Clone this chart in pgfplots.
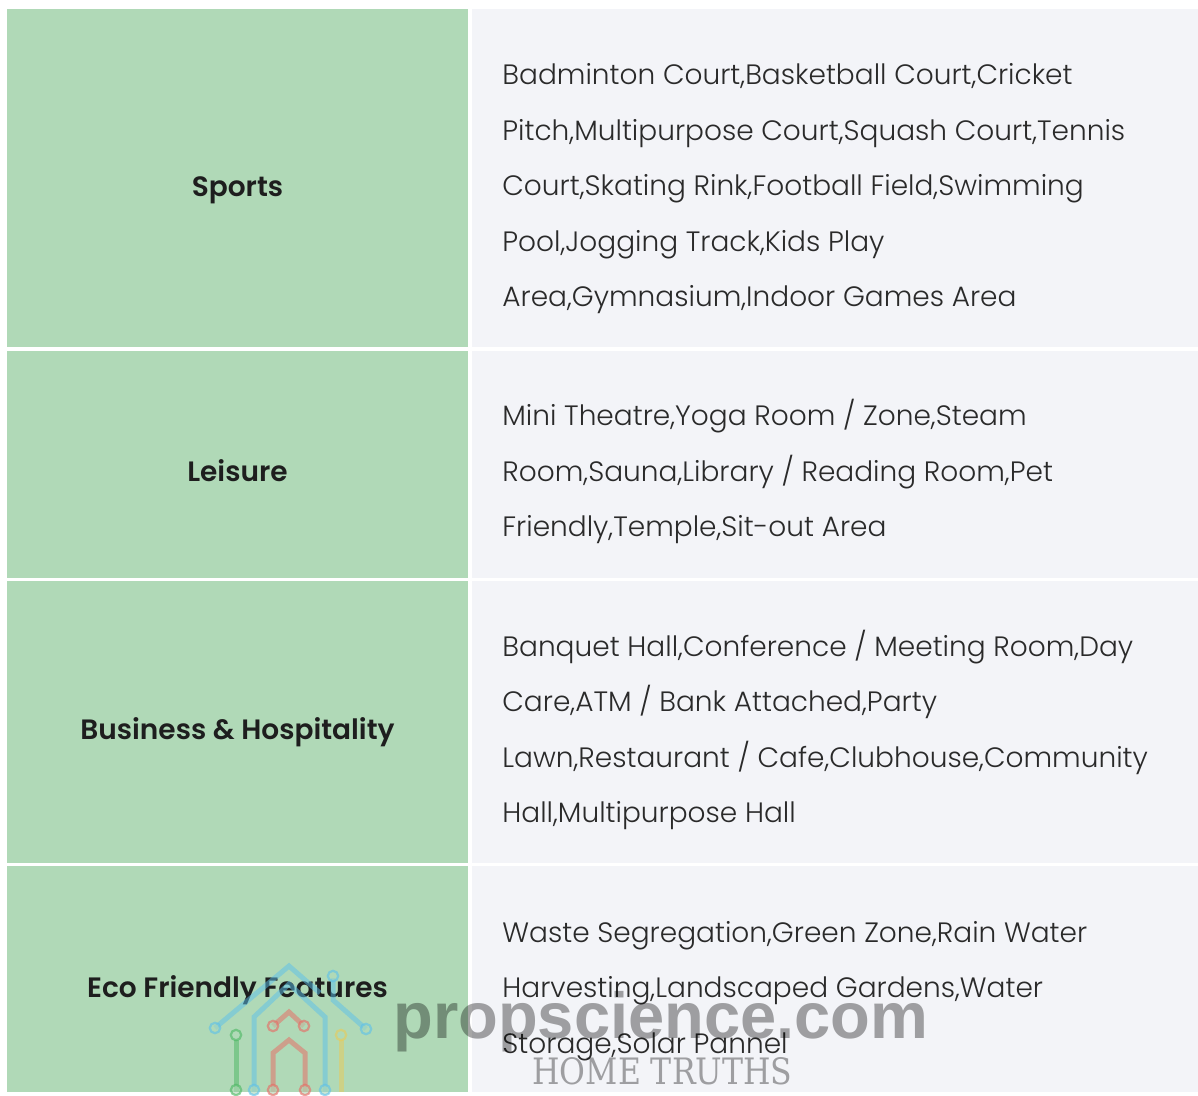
\documentclass[border=0pt]{standalone}
\usepackage{pgfplots}
\pgfplotsset{compat=1.18}
\usepackage{fontspec}
\setmainfont{Poppins}
\newfontfamily\lightfont{Poppins Light}
\newfontfamily\semifont{Poppins SemiBold}
\newfontfamily\wmfont{Liberation Sans}
\newfontfamily\slabfont{DejaVu Serif}
\definecolor{rowgreen}{HTML}{B0D9B7}
\definecolor{rowgrey}{HTML}{F3F4F8}
\definecolor{bodytext}{HTML}{2A2A2A}
\definecolor{labeltext}{HTML}{1E1E1E}
\definecolor{icblue}{HTML}{5BC0EB}
\definecolor{icred}{HTML}{EA6761}
\definecolor{icgreen}{HTML}{4AB761}
\definecolor{icyellow}{HTML}{EACB57}
\begin{document}
\begin{tikzpicture}
\begin{axis}[
  width=599pt, height=546pt, scale only axis,
  xmin=0, xmax=1198, ymin=0, ymax=1092, y dir=reverse,
  hide axis, clip mode=global,
]
% background
\addplot[fill=white, draw=none] coordinates {(0,0) (1198,0) (1198,1092) (0,1092)} -- cycle;
% left column (green)
\addplot[fill=rowgreen, draw=none] coordinates {(7,9) (468,9) (468,347) (7,347)} -- cycle;
\addplot[fill=rowgreen, draw=none] coordinates {(7,351) (468,351) (468,578) (7,578)} -- cycle;
\addplot[fill=rowgreen, draw=none] coordinates {(7,581) (468,581) (468,863) (7,863)} -- cycle;
\addplot[fill=rowgreen, draw=none] coordinates {(7,866) (468,866) (468,1092) (7,1092)} -- cycle;
% right column (grey)
\addplot[fill=rowgrey, draw=none] coordinates {(472,9) (1198,9) (1198,347) (472,347)} -- cycle;
\addplot[fill=rowgrey, draw=none] coordinates {(472,351) (1198,351) (1198,578) (472,578)} -- cycle;
\addplot[fill=rowgrey, draw=none] coordinates {(472,581) (1198,581) (1198,863) (472,863)} -- cycle;
\addplot[fill=rowgrey, draw=none] coordinates {(472,866) (1198,866) (1198,1092) (472,1092)} -- cycle;

% labels
\tikzset{lb/.style={anchor=base, inner sep=0pt, font=\semifont\fontsize{14}{16}\selectfont, text=labeltext}}
\node[lb] at (axis cs:237.5,196.5) {Sports};
\node[lb] at (axis cs:237.5,481.5) {Leisure};
\node[lb] at (axis cs:237.5,739.5) {Business \& Hospitality};
\node[lb] at (axis cs:237.5,997.5) {Eco Friendly Features};

% body text
\tikzset{bt/.style={anchor=base west, inner sep=0pt, font=\lightfont\fontsize{14}{16}\selectfont, text=bodytext}}
\node[bt] at (axis cs:502,84.5) {Badminton Court,Basketball Court,Cricket};
\node[bt] at (axis cs:502,140.5) {Pitch,Multipurpose Court,Squash Court,Tennis};
\node[bt] at (axis cs:502,195.5) {Court,Skating Rink,Football Field,Swimming};
\node[bt] at (axis cs:502,251.5) {Pool,Jogging Track,Kids Play};
\node[bt] at (axis cs:502,306.5) {Area,Gymnasium,Indoor Games Area};

\node[bt] at (axis cs:502,425.5) {Mini Theatre,Yoga Room / Zone,Steam};
\node[bt] at (axis cs:502,481.5) {Room,Sauna,Library / Reading Room,Pet};
\node[bt] at (axis cs:502,536.5) {Friendly,Temple,Sit-out Area};

\node[bt] at (axis cs:502,656.5) {Banquet Hall,Conference / Meeting Room,Day};
\node[bt] at (axis cs:502,711.5) {Care,ATM / Bank Attached,Party};
\node[bt] at (axis cs:502,767.5) {Lawn,Restaurant / Cafe,Clubhouse,Community};
\node[bt] at (axis cs:502,822.5) {Hall,Multipurpose Hall};

\node[bt] at (axis cs:502,942.5) {Waste Segregation,Green Zone,Rain Water};
\node[bt] at (axis cs:502,997.5) {Harvesting,Landscaped Gardens,Water};
\node[bt] at (axis cs:502,1053.5) {Storage,Solar Pannel};

% watermark icon
\addplot[draw=icblue, line width=2.5pt, opacity=0.5] coordinates {(215,1028) (289,966) (320,993)};
\addplot[draw=icblue, line width=2.5pt, opacity=0.5] coordinates {(333,978) (333,1000) (366,1029)};
\addplot[draw=icblue, line width=2.5pt, opacity=0.5] coordinates {(254,1092) (254,1017) (289,984) (325,1017) (325,1092)};
\addplot[draw=icred, line width=2.5pt, opacity=0.5] coordinates {(273,1026) (289,1012) (304,1026)};
\addplot[draw=icred, line width=2.5pt, opacity=0.5] coordinates {(273,1092) (273,1053) (289,1040) (305,1053) (305,1092)};
\addplot[draw=icgreen, line width=2.5pt, opacity=0.5] coordinates {(236,1040) (236,1092)};
\addplot[draw=icyellow, line width=2.5pt, opacity=0.5] coordinates {(341,1040) (341,1092)};
\addplot[only marks, mark=*, mark size=2.6pt, draw=icblue, fill=rowgreen, mark options={line width=1.1pt, opacity=0.6}] coordinates {(215,1028) (366,1029) (333,976) (254,1090) (325,1090)};
\addplot[only marks, mark=*, mark size=2.6pt, draw=icred, fill=rowgreen, mark options={line width=1.1pt, opacity=0.6}] coordinates {(273,1026) (304,1026) (273,1090) (305,1090)};
\addplot[only marks, mark=*, mark size=2.6pt, draw=icgreen, fill=rowgreen, mark options={line width=1.1pt, opacity=0.6}] coordinates {(236,1035) (236,1090)};
\addplot[only marks, mark=*, mark size=2.6pt, draw=icyellow, fill=rowgreen, mark options={line width=1.1pt, opacity=0.6}] coordinates {(341,1035)};

% watermark text
\node[anchor=base west, inner sep=0pt, text=black, text opacity=0.35] at (axis cs:393,1038) {\resizebox{267.5pt}{!}{\wmfont\bfseries propscience.com}};
\node[anchor=base west, inner sep=0pt, text=black, text opacity=0.35] at (axis cs:532,1084) {\resizebox{130pt}{13.5pt}{\slabfont HOME TRUTHS}};
\end{axis}
\end{tikzpicture}
\end{document}
